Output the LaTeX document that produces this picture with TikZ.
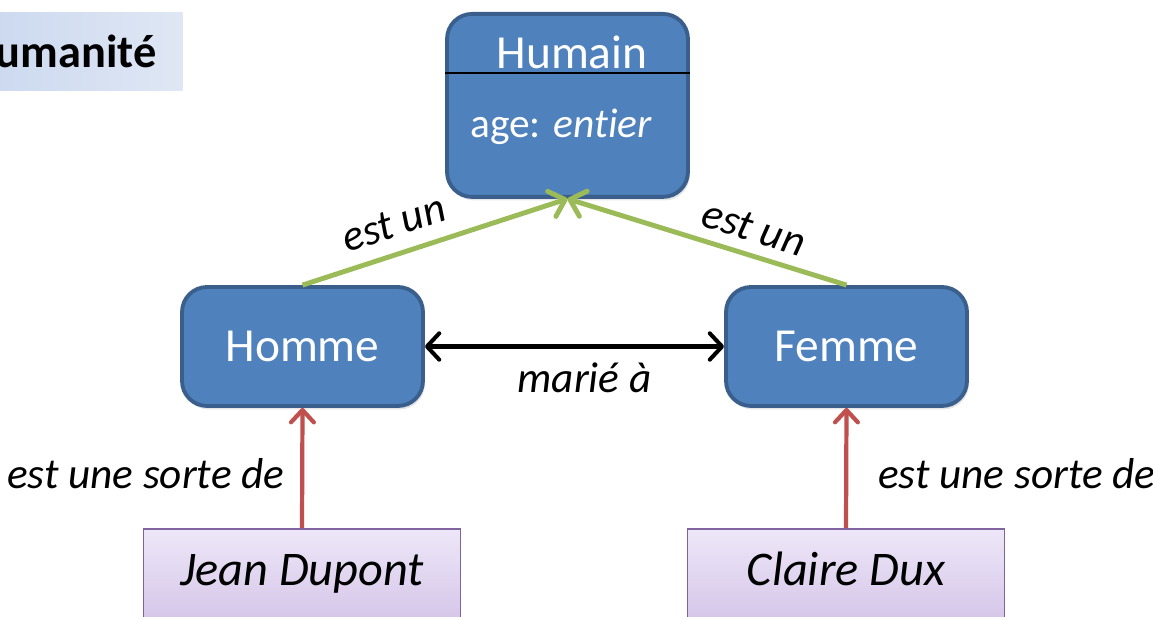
\documentclass[tikz,border=0pt]{standalone}
\usepackage{fontspec}
\setmainfont{Carlito}[RawFeature={-liga;-clig;-calt;-dlig}]
\usetikzlibrary{%
  arrows.meta,%
  positioning,%
  shadows%
}

\definecolor{boxblue}{HTML}{4F81BD}
\definecolor{boxedge}{HTML}{3A5F8C}
\definecolor{linkgreen}{HTML}{9BBB59}
\definecolor{linkred}{HTML}{C0504D}
\definecolor{instedge}{HTML}{8064A2}
\definecolor{insttop}{HTML}{EEE7F8}
\definecolor{instbot}{HTML}{CAB7E2}
\definecolor{titleleft}{HTML}{C7D5EE}
\definecolor{titleright}{HTML}{DFE7F4}

\newcommand{\bigtxt}{\fontsize{27}{31}\selectfont}
\newcommand{\labtxt}{\fontsize{24.6}{28}\selectfont}

\tikzset{
  classbox/.style={rectangle, rounded corners=0.5cm, fill=boxblue, draw=boxedge,
    line width=2.2pt, text=white, font=\bigtxt, minimum width=4.82cm,
    minimum height=2.38cm, inner sep=0pt,
    drop shadow={opacity=0.2, shadow xshift=1pt, shadow yshift=-2pt}},
  instbox/.style={rectangle, top color=insttop, bottom color=instbot, draw=instedge,
    line width=1pt, font=\fontsize{27.5}{31}\selectfont\itshape, minimum width=6.34cm,
    inner sep=0pt, text height=1.14cm, text depth=1.5cm},
  titlebox/.style={rectangle, left color=titleleft, right color=titleright,
    font=\fontsize{26.4}{30}\selectfont\bfseries, inner xsep=0.52cm,
    minimum height=1.56cm},
  isalink/.style={draw=linkgreen, line width=2.8pt,
    -{Straight Barb[length=8pt,width=15pt,round]}},
  kindlink/.style={draw=linkred, line width=2.4pt,
    -{Straight Barb[length=7pt,width=13pt,round]}},
  marrylink/.style={draw=black, line width=2.3pt,
    {Straight Barb[length=7pt,width=15pt,round]}-{Straight Barb[length=7pt,width=15pt,round]}},
  linklabel/.style={font=\labtxt\itshape, inner sep=3pt}
}

\begin{document}
\begin{tikzpicture}[x=0.02cm,y=-0.02cm]

\useasboundingbox (0,0) rectangle (1153,617);

% titre
\node[titlebox, anchor=north east] (titre) at (183,12) {Humanité};

% classes
\node[classbox, minimum height=3.66cm, anchor=north] (humain) at (567.5,12) {};
\node[text=white, font=\bigtxt] (humainnom) at (572,52) {Humain};
\draw[line width=0.8pt] (humain.west |- 0,73) -- (humain.east |- 0,73);
\node[text=white, font=\fontsize{23.6}{27}\selectfont, anchor=west] (humainattr) at (464,127) {age: \textit{entier}};

\node[classbox] (homme) at (302.5,346.5) {Homme};
\node[classbox] (femme) at (846.5,346.5) {Femme};

% instances
\node[instbox, anchor=north] (jean) at (302,528) {Jean Dupont};
\node[instbox, anchor=north] (claire) at (846,528) {Claire Dux};

% liens
\draw[isalink] (homme.north) -- node[linklabel, sloped, above=5pt, pos=0.38] {est un} (humain.south);
\draw[isalink] (femme.north) -- node[linklabel, sloped, above=3pt, pos=0.36] {est un} (humain.south);
\draw[marrylink] (homme.east) -- node[linklabel, below=5pt, xshift=0.2cm] {marié à} (femme.west);
\draw[kindlink] (jean.north) -- node[linklabel, left=6pt, pos=0.45] {est une sorte de} (homme.south);
\draw[kindlink] (claire.north) -- node[linklabel, right=14pt, pos=0.45] {est une sorte de} (femme.south);

\end{tikzpicture}
\end{document}
